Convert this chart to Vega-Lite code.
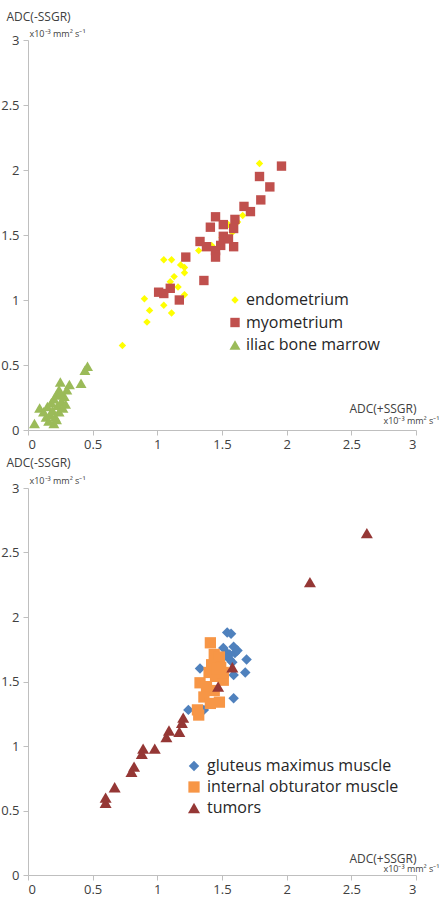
{
  "$schema": "https://vega.github.io/schema/vega-lite/v6.json",
  "padding": {"left": 0, "top": 10, "right": 2, "bottom": 1},
  "bounds": "flush",
  "spacing": 58,
  "config": {
    "font": "Open Sans",
    "view": {"stroke": null},
    "axis": {"domainColor": "#BFBFBF", "tickColor": "#BFBFBF", "grid": false, "labelColor": "#404040", "labelFontSize": 13, "labelFont": "Open Sans", "tickSize": 5, "titleFont": "Open Sans", "titleFontWeight": "normal", "titleColor": "#404040", "titleFontSize": 12}
  },
  "datasets": {
    "top": [
      {"group": "endometrium", "x": 0.73, "y": 0.65},
      {"group": "endometrium", "x": 0.90, "y": 1.01},
      {"group": "endometrium", "x": 0.94, "y": 0.92},
      {"group": "endometrium", "x": 0.92, "y": 0.83},
      {"group": "endometrium", "x": 1.05, "y": 1.31},
      {"group": "endometrium", "x": 1.11, "y": 1.31},
      {"group": "endometrium", "x": 1.18, "y": 1.27},
      {"group": "endometrium", "x": 1.21, "y": 1.25},
      {"group": "endometrium", "x": 1.13, "y": 1.18},
      {"group": "endometrium", "x": 1.10, "y": 1.14},
      {"group": "endometrium", "x": 1.21, "y": 1.21},
      {"group": "endometrium", "x": 1.05, "y": 0.96},
      {"group": "endometrium", "x": 1.11, "y": 0.90},
      {"group": "endometrium", "x": 1.21, "y": 1.04},
      {"group": "endometrium", "x": 1.16, "y": 1.10},
      {"group": "endometrium", "x": 1.58, "y": 1.52},
      {"group": "endometrium", "x": 1.66, "y": 1.65},
      {"group": "endometrium", "x": 1.79, "y": 2.05},
      {"group": "endometrium", "x": 1.32, "y": 1.38},
      {"group": "endometrium", "x": 1.42, "y": 1.42},
      {"group": "endometrium", "x": 1.50, "y": 1.48},
      {"group": "endometrium", "x": 1.55, "y": 1.58},
      {"group": "endometrium", "x": 1.62, "y": 1.60},
      {"group": "myometrium", "x": 1.96, "y": 2.03},
      {"group": "myometrium", "x": 1.79, "y": 1.95},
      {"group": "myometrium", "x": 1.87, "y": 1.87},
      {"group": "myometrium", "x": 1.80, "y": 1.77},
      {"group": "myometrium", "x": 1.67, "y": 1.72},
      {"group": "myometrium", "x": 1.72, "y": 1.68},
      {"group": "myometrium", "x": 1.45, "y": 1.64},
      {"group": "myometrium", "x": 1.51, "y": 1.58},
      {"group": "myometrium", "x": 1.60, "y": 1.62},
      {"group": "myometrium", "x": 1.41, "y": 1.56},
      {"group": "myometrium", "x": 1.59, "y": 1.55},
      {"group": "myometrium", "x": 1.51, "y": 1.49},
      {"group": "myometrium", "x": 1.33, "y": 1.45},
      {"group": "myometrium", "x": 1.38, "y": 1.41},
      {"group": "myometrium", "x": 1.45, "y": 1.38},
      {"group": "myometrium", "x": 1.45, "y": 1.33},
      {"group": "myometrium", "x": 1.59, "y": 1.41},
      {"group": "myometrium", "x": 1.49, "y": 1.42},
      {"group": "myometrium", "x": 1.22, "y": 1.33},
      {"group": "myometrium", "x": 1.36, "y": 1.15},
      {"group": "myometrium", "x": 1.01, "y": 1.06},
      {"group": "myometrium", "x": 1.10, "y": 1.09},
      {"group": "myometrium", "x": 1.17, "y": 1.00},
      {"group": "myometrium", "x": 1.05, "y": 1.05},
      {"group": "myometrium", "x": 1.55, "y": 1.47},
      {"group": "iliac bone marrow", "x": 0.05, "y": 0.05},
      {"group": "iliac bone marrow", "x": 0.09, "y": 0.17},
      {"group": "iliac bone marrow", "x": 0.12, "y": 0.14},
      {"group": "iliac bone marrow", "x": 0.14, "y": 0.10},
      {"group": "iliac bone marrow", "x": 0.15, "y": 0.18},
      {"group": "iliac bone marrow", "x": 0.17, "y": 0.12},
      {"group": "iliac bone marrow", "x": 0.18, "y": 0.21},
      {"group": "iliac bone marrow", "x": 0.19, "y": 0.15},
      {"group": "iliac bone marrow", "x": 0.20, "y": 0.05},
      {"group": "iliac bone marrow", "x": 0.20, "y": 0.24},
      {"group": "iliac bone marrow", "x": 0.21, "y": 0.10},
      {"group": "iliac bone marrow", "x": 0.22, "y": 0.27},
      {"group": "iliac bone marrow", "x": 0.23, "y": 0.19},
      {"group": "iliac bone marrow", "x": 0.24, "y": 0.14},
      {"group": "iliac bone marrow", "x": 0.24, "y": 0.31},
      {"group": "iliac bone marrow", "x": 0.25, "y": 0.37},
      {"group": "iliac bone marrow", "x": 0.26, "y": 0.22},
      {"group": "iliac bone marrow", "x": 0.27, "y": 0.17},
      {"group": "iliac bone marrow", "x": 0.28, "y": 0.26},
      {"group": "iliac bone marrow", "x": 0.30, "y": 0.31},
      {"group": "iliac bone marrow", "x": 0.32, "y": 0.35},
      {"group": "iliac bone marrow", "x": 0.22, "y": 0.08},
      {"group": "iliac bone marrow", "x": 0.16, "y": 0.07},
      {"group": "iliac bone marrow", "x": 0.41, "y": 0.36},
      {"group": "iliac bone marrow", "x": 0.44, "y": 0.46},
      {"group": "iliac bone marrow", "x": 0.46, "y": 0.49},
      {"group": "iliac bone marrow", "x": 0.29, "y": 0.20},
      {"group": "iliac bone marrow", "x": 0.25, "y": 0.28}
    ],
    "bottom": [
      {"group": "gluteus maximus muscle", "x": 1.54, "y": 1.88},
      {"group": "gluteus maximus muscle", "x": 1.57, "y": 1.87},
      {"group": "gluteus maximus muscle", "x": 1.51, "y": 1.76},
      {"group": "gluteus maximus muscle", "x": 1.59, "y": 1.77},
      {"group": "gluteus maximus muscle", "x": 1.60, "y": 1.72},
      {"group": "gluteus maximus muscle", "x": 1.56, "y": 1.71},
      {"group": "gluteus maximus muscle", "x": 1.69, "y": 1.67},
      {"group": "gluteus maximus muscle", "x": 1.68, "y": 1.57},
      {"group": "gluteus maximus muscle", "x": 1.59, "y": 1.55},
      {"group": "gluteus maximus muscle", "x": 1.33, "y": 1.60},
      {"group": "gluteus maximus muscle", "x": 1.59, "y": 1.37},
      {"group": "gluteus maximus muscle", "x": 1.24, "y": 1.28},
      {"group": "gluteus maximus muscle", "x": 1.54, "y": 1.72},
      {"group": "gluteus maximus muscle", "x": 1.62, "y": 1.74},
      {"group": "gluteus maximus muscle", "x": 1.56, "y": 1.67},
      {"group": "gluteus maximus muscle", "x": 1.36, "y": 1.28},
      {"group": "gluteus maximus muscle", "x": 1.52, "y": 1.70},
      {"group": "gluteus maximus muscle", "x": 1.58, "y": 1.65},
      {"group": "internal obturator muscle", "x": 1.41, "y": 1.80},
      {"group": "internal obturator muscle", "x": 1.44, "y": 1.71},
      {"group": "internal obturator muscle", "x": 1.48, "y": 1.69},
      {"group": "internal obturator muscle", "x": 1.42, "y": 1.63},
      {"group": "internal obturator muscle", "x": 1.49, "y": 1.61},
      {"group": "internal obturator muscle", "x": 1.40, "y": 1.57},
      {"group": "internal obturator muscle", "x": 1.45, "y": 1.54},
      {"group": "internal obturator muscle", "x": 1.51, "y": 1.51},
      {"group": "internal obturator muscle", "x": 1.33, "y": 1.49},
      {"group": "internal obturator muscle", "x": 1.38, "y": 1.46},
      {"group": "internal obturator muscle", "x": 1.44, "y": 1.43},
      {"group": "internal obturator muscle", "x": 1.36, "y": 1.38},
      {"group": "internal obturator muscle", "x": 1.48, "y": 1.34},
      {"group": "internal obturator muscle", "x": 1.41, "y": 1.33},
      {"group": "internal obturator muscle", "x": 1.31, "y": 1.28},
      {"group": "internal obturator muscle", "x": 1.32, "y": 1.24},
      {"group": "internal obturator muscle", "x": 1.51, "y": 1.57},
      {"group": "internal obturator muscle", "x": 1.46, "y": 1.60},
      {"group": "tumors", "x": 2.62, "y": 2.65},
      {"group": "tumors", "x": 2.18, "y": 2.27},
      {"group": "tumors", "x": 1.58, "y": 1.61},
      {"group": "tumors", "x": 1.47, "y": 1.46},
      {"group": "tumors", "x": 1.20, "y": 1.22},
      {"group": "tumors", "x": 1.19, "y": 1.18},
      {"group": "tumors", "x": 1.17, "y": 1.11},
      {"group": "tumors", "x": 1.09, "y": 1.12},
      {"group": "tumors", "x": 1.07, "y": 1.07},
      {"group": "tumors", "x": 0.98, "y": 0.98},
      {"group": "tumors", "x": 0.89, "y": 0.98},
      {"group": "tumors", "x": 0.88, "y": 0.94},
      {"group": "tumors", "x": 0.82, "y": 0.84},
      {"group": "tumors", "x": 0.80, "y": 0.80},
      {"group": "tumors", "x": 0.67, "y": 0.68},
      {"group": "tumors", "x": 0.60, "y": 0.60},
      {"group": "tumors", "x": 0.60, "y": 0.56}
    ]
  },
  "vconcat": [
    {
      "width": 388,
      "height": 390,
      "data": {"name": "top"},
      "encoding": {
        "x": {"field": "x", "type": "quantitative", "scale": {"domain": [0, 3]}, "axis": {"values": [0, 0.5, 1, 1.5, 2, 2.5, 3], "format": "~g", "labelPadding": 3, "title": "ADC(+SSGR)", "titleAlign": "right", "titleAnchor": null, "titleX": 388, "titleY": -18, "titleBaseline": "alphabetic"}},
        "y": {"field": "y", "type": "quantitative", "scale": {"domain": [0, 3]}, "axis": {"values": [0, 0.5, 1, 1.5, 2, 2.5, 3], "format": "~g", "labelPadding": 4, "title": "ADC(-SSGR)", "titleAngle": 0, "titleAlign": "left", "titleAnchor": null, "titleBaseline": "alphabetic", "titleX": -22, "titleY": -20}},
        "color": {"field": "group", "type": "nominal", "scale": {"domain": ["endometrium", "myometrium", "iliac bone marrow"], "range": ["#FFFF00", "#C0504D", "#9BBB59"]}, "legend": {"orient": "none", "legendX": 199, "legendY": 252, "title": null, "labelFontSize": 16, "labelColor": "#262626", "labelFont": "Open Sans", "labelLimit": 400, "rowPadding": 6.5, "padding": 0, "labelOffset": 3, "symbolStrokeWidth": 0}},
        "shape": {"field": "group", "type": "nominal", "scale": {"domain": ["endometrium", "myometrium", "iliac bone marrow"], "range": ["diamond", "square", "triangle-up"]}, "legend": {"orient": "none", "legendX": 199, "legendY": 252, "title": null, "labelFontSize": 16, "labelColor": "#262626", "labelFont": "Open Sans", "labelLimit": 400, "rowPadding": 6.5, "padding": 0, "labelOffset": 3, "symbolStrokeWidth": 0}},
        "size": {"field": "group", "type": "nominal", "scale": {"domain": ["endometrium", "myometrium", "iliac bone marrow"], "range": [55, 121, 121]}, "legend": {"orient": "none", "legendX": 199, "legendY": 252, "title": null, "labelFontSize": 16, "labelColor": "#262626", "labelFont": "Open Sans", "labelLimit": 400, "rowPadding": 6.5, "padding": 0, "labelOffset": 3, "symbolStrokeWidth": 0}}
      },
      "layer": [
        {"transform": [{"filter": "datum.group != 'iliac bone marrow'"}], "mark": {"type": "point", "filled": true, "opacity": 1}},
        {"transform": [{"filter": "datum.group == 'iliac bone marrow'"}], "mark": {"type": "point", "filled": true, "opacity": 1},
         "encoding": {
           "x": {"field": "x", "type": "quantitative", "scale": {"domain": [0, 3]}, "axis": {"orient": "top", "domain": false, "ticks": false, "labels": false, "title": "x10⁻³ mm² s⁻¹", "titleFontSize": 9, "titleAlign": "right", "titleAnchor": null, "titleX": 411, "titleY": 383, "titleBaseline": "alphabetic"}},
           "y": {"field": "y", "type": "quantitative", "scale": {"domain": [0, 3]}, "axis": {"orient": "right", "domain": false, "ticks": false, "labels": false, "title": "x10⁻³ mm² s⁻¹", "titleFontSize": 9, "titleAngle": 0, "titleAlign": "left", "titleAnchor": null, "titleBaseline": "alphabetic", "titleX": -387, "titleY": -4}}
         }}
      ],
      "resolve": {"axis": {"x": "independent", "y": "independent"}}
    },
    {
      "width": 388,
      "height": 387,
      "data": {"name": "bottom"},
      "encoding": {
        "x": {"field": "x", "type": "quantitative", "scale": {"domain": [0, 3]}, "axis": {"values": [0, 0.5, 1, 1.5, 2, 2.5, 3], "format": "~g", "labelPadding": 3, "title": "ADC(+SSGR)", "titleAlign": "right", "titleAnchor": null, "titleX": 388, "titleY": -13, "titleBaseline": "alphabetic"}},
        "y": {"field": "y", "type": "quantitative", "scale": {"domain": [0, 3]}, "axis": {"values": [0, 0.5, 1, 1.5, 2, 2.5, 3], "format": "~g", "labelPadding": 4, "title": "ADC(-SSGR)", "titleAngle": 0, "titleAlign": "left", "titleAnchor": null, "titleBaseline": "alphabetic", "titleX": -22, "titleY": -22}},
        "color": {"field": "group", "type": "nominal", "scale": {"domain": ["gluteus maximus muscle", "internal obturator muscle", "tumors"], "range": ["#4F81BD", "#F79646", "#953735"]}, "legend": {"orient": "none", "legendX": 158, "legendY": 270, "title": null, "labelFontSize": 16, "labelColor": "#262626", "labelFont": "Open Sans", "labelLimit": 400, "rowPadding": 5, "padding": 0, "labelOffset": 5, "symbolStrokeWidth": 0}},
        "shape": {"field": "group", "type": "nominal", "scale": {"domain": ["gluteus maximus muscle", "internal obturator muscle", "tumors"], "range": ["diamond", "square", "triangle-up"]}, "legend": {"orient": "none", "legendX": 158, "legendY": 270, "title": null, "labelFontSize": 16, "labelColor": "#262626", "labelFont": "Open Sans", "labelLimit": 400, "rowPadding": 5, "padding": 0, "labelOffset": 5, "symbolStrokeWidth": 0}},
        "size": {"field": "group", "type": "nominal", "scale": {"domain": ["gluteus maximus muscle", "internal obturator muscle", "tumors"], "range": [110, 144, 90]}, "legend": {"orient": "none", "legendX": 158, "legendY": 270, "title": null, "labelFontSize": 16, "labelColor": "#262626", "labelFont": "Open Sans", "labelLimit": 400, "rowPadding": 5, "padding": 0, "labelOffset": 5, "symbolStrokeWidth": 0}}
      },
      "layer": [
        {"transform": [{"filter": "datum.group != 'tumors'"}], "mark": {"type": "point", "filled": true, "opacity": 1}},
        {"transform": [{"filter": "datum.group == 'tumors'"}], "mark": {"type": "point", "filled": true, "opacity": 1},
         "encoding": {
           "x": {"field": "x", "type": "quantitative", "scale": {"domain": [0, 3]}, "axis": {"orient": "top", "domain": false, "ticks": false, "labels": false, "title": "x10⁻³ mm² s⁻¹", "titleFontSize": 9, "titleAlign": "right", "titleAnchor": null, "titleX": 411, "titleY": 383, "titleBaseline": "alphabetic"}},
           "y": {"field": "y", "type": "quantitative", "scale": {"domain": [0, 3]}, "axis": {"orient": "right", "domain": false, "ticks": false, "labels": false, "title": "x10⁻³ mm² s⁻¹", "titleFontSize": 9, "titleAngle": 0, "titleAlign": "left", "titleAnchor": null, "titleBaseline": "alphabetic", "titleX": -387, "titleY": -5}}
         }}
      ],
      "resolve": {"axis": {"x": "independent", "y": "independent"}}
    }
  ],
  "resolve": {"scale": {"color": "independent", "shape": "independent", "size": "independent"}, "legend": {"color": "independent", "shape": "independent", "size": "independent"}}
}
